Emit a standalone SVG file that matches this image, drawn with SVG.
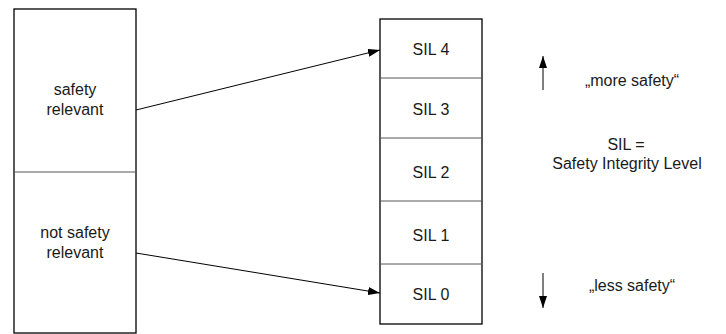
<svg xmlns="http://www.w3.org/2000/svg" width="726" height="334" viewBox="0 0 726 334">
<defs>
<marker id="ah" markerWidth="12" markerHeight="8" refX="12" refY="4" orient="auto" markerUnits="userSpaceOnUse">
<path d="M0,0 L12,4 L0,8 Z" fill="#000"/>
</marker>
<style>
text{font-family:"Liberation Sans",Arial,sans-serif;font-size:16px;fill:#1a1a1a;text-anchor:middle}
.box{fill:#fff;stroke:#000;stroke-width:1.3}
.div{stroke:#555;stroke-width:1}
.conn{stroke:#000;stroke-width:1;fill:none}
</style>
</defs>
<rect width="726" height="334" fill="#fff"/>
<g id="left-column">
<rect class="box" x="14" y="9" width="122" height="324"/>
<line class="div" x1="14" y1="172" x2="136" y2="172"/>
</g>
<g id="safety-relevant">
<text x="75" y="95">safety</text>
<text x="75" y="115">relevant</text>
</g>
<g id="not-safety-relevant">
<text x="75" y="238">not safety</text>
<text x="75" y="258">relevant</text>
</g>
<g id="sil-column">
<rect class="box" x="380" y="19" width="102" height="305"/>
<line class="div" x1="380" y1="78" x2="482" y2="78"/>
<line class="div" x1="380" y1="138" x2="482" y2="138"/>
<line class="div" x1="380" y1="201" x2="482" y2="201"/>
<line class="div" x1="380" y1="264" x2="482" y2="264" stroke="#000"/>
</g>
<g id="sil4"><text x="431" y="55">SIL 4</text></g>
<g id="sil3"><text x="431" y="115">SIL 3</text></g>
<g id="sil2"><text x="431" y="178">SIL 2</text></g>
<g id="sil1"><text x="431" y="241">SIL 1</text></g>
<g id="sil0"><text x="431" y="300">SIL 0</text></g>
<g id="connectors">
<line class="conn" x1="136" y1="110" x2="380" y2="50" marker-end="url(#ah)"/>
<line class="conn" x1="136" y1="253" x2="380" y2="293" marker-end="url(#ah)"/>
<line class="conn" x1="543" y1="90" x2="543" y2="56" marker-end="url(#ah)"/>
<line class="conn" x1="543" y1="273" x2="543" y2="308" marker-end="url(#ah)"/>
</g>
<g id="legend">
<text x="632" y="86">„more safety“</text>
<text x="626" y="150">SIL =</text>
<text x="627" y="169">Safety Integrity Level</text>
<text x="632" y="291">„less safety“</text>
</g>
</svg>
